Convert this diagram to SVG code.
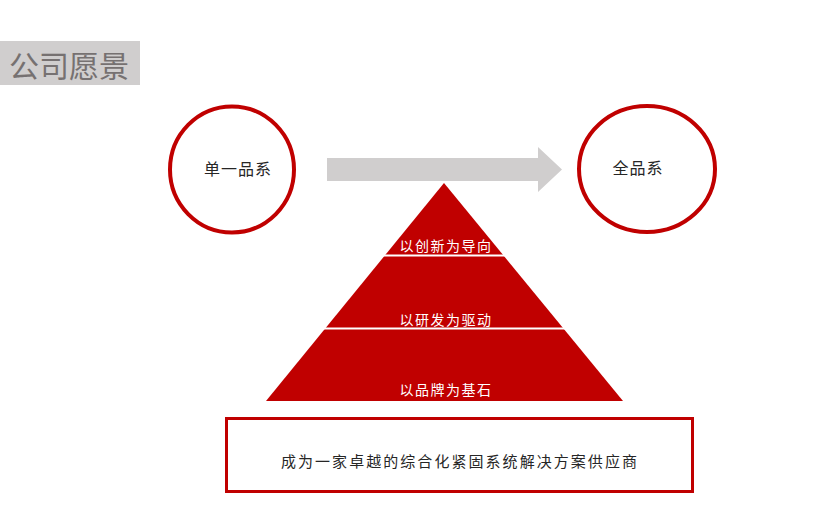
<svg xmlns="http://www.w3.org/2000/svg" width="838" height="514" viewBox="0 0 838 514">
<style>
text{font-family:"Noto Sans CJK SC","Liberation Sans",sans-serif;}
.ring{fill:#fff;stroke:#C00000;stroke-width:4;}
.dark{fill:#262626;font-size:16px;text-anchor:middle;letter-spacing:1px;}
.wt{fill:#fff;font-size:14px;text-anchor:middle;letter-spacing:1.5px;}
</style>
<rect width="838" height="514" fill="#fff"/>
<g id="title">
<rect x="0" y="41" width="140" height="44" fill="#D0CECE"/>
<text x="69" y="77" font-size="30" fill="#767171" text-anchor="middle">公司愿景</text>
</g>
<g id="connectors">
<polygon points="327,158 538,158 538,147 562,169.5 538,192 538,181 327,181" fill="#D0CECE"/>
</g>
<g id="node-single">
<ellipse class="ring" cx="232" cy="169.5" rx="62" ry="63"/>
<text class="dark" x="238" y="175">单一品系</text>
</g>
<g id="node-full">
<ellipse class="ring" cx="647" cy="169" rx="68" ry="63"/>
<text class="dark" x="638" y="174">全品系</text>
</g>
<g id="pyramid">
<polygon points="444,183 266,401 623,401" fill="#C00000"/>
<line x1="380" y1="255.5" x2="508" y2="255.5" stroke="#fff" stroke-width="2"/>
<line x1="322" y1="328.5" x2="567" y2="328.5" stroke="#fff" stroke-width="2"/>
<text class="wt" x="446" y="251">以创新为导向</text>
<text class="wt" x="446" y="325">以研发为驱动</text>
<text class="wt" x="446" y="395">以品牌为基石</text>
</g>
<g id="mission">
<rect x="226.5" y="418.5" width="466" height="73" fill="#fff" stroke="#C00000" stroke-width="3"/>
<text x="460" y="467" font-size="15" fill="#262626" text-anchor="middle" letter-spacing="2.05">成为一家卓越的综合化紧固系统解决方案供应商</text>
</g>
</svg>
